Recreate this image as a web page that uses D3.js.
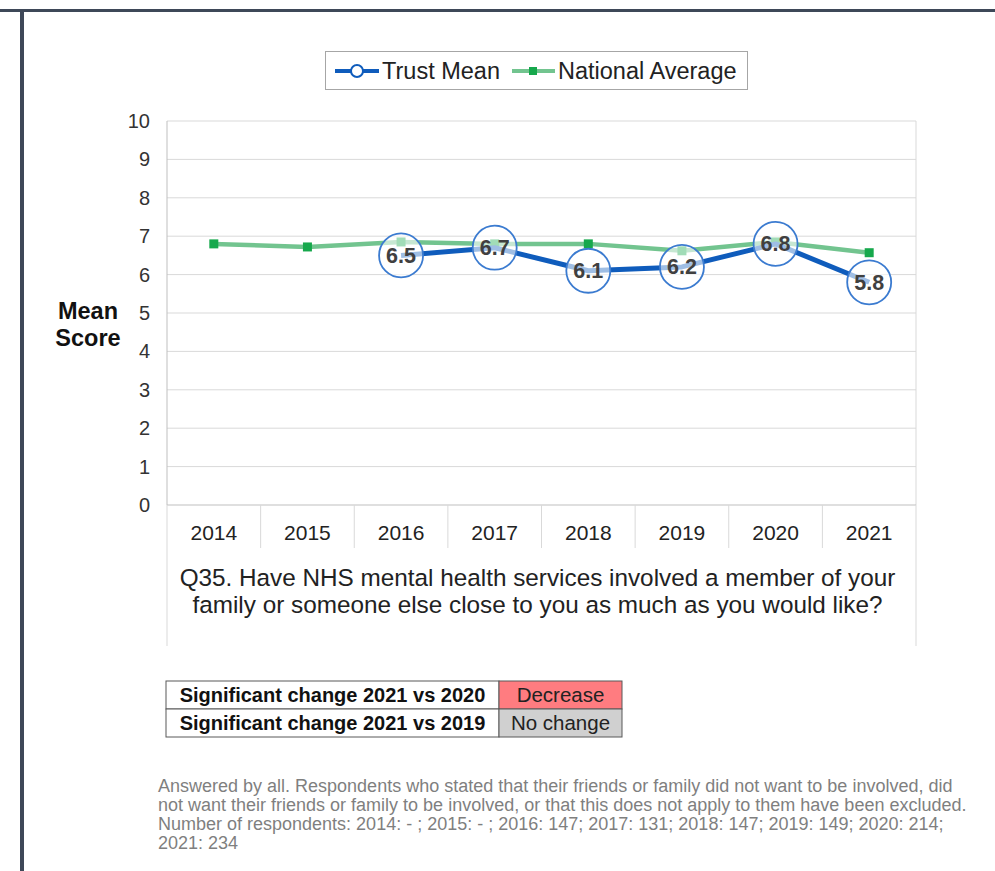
<!DOCTYPE html>
<html>
<head>
<meta charset="utf-8">
<script src="https://cdn.jsdelivr.net/npm/d3@7"></script>
<style>
body { margin: 0; background: #fff; }
svg { display: block; font-family: "Liberation Sans", Arial, sans-serif; }
</style>
</head>
<body>
<svg id="chart" width="995" height="871"></svg>
<script>
// chart data
var years = ["2014", "2015", "2016", "2017", "2018", "2019", "2020", "2021"];
var trustMean = [null, null, 6.5, 6.7, 6.1, 6.2, 6.8, 5.8];
var nationalAvg = [6.8, 6.72, 6.85, 6.8, 6.8, 6.62, 6.85, 6.57];
var yTicks = [0, 1, 2, 3, 4, 5, 6, 7, 8, 9, 10];
var seriesNames = ["Trust Mean", "National Average"];
var questionLines = ["Q35. Have NHS mental health services involved a member of your",
    "family or someone else close to you as much as you would like?"];
var changeRows = [["Significant change 2021 vs 2020", "Decrease"],
    ["Significant change 2021 vs 2019", "No change"]];
var footLines = ["Answered by all. Respondents who stated that their friends or family did not want to be involved, did",
    "not want their friends or family to be involved, or that this does not apply to them have been excluded.",
    "Number of respondents: 2014: - ; 2015: - ; 2016: 147; 2017: 131; 2018: 147; 2019: 149; 2020: 214;",
    "2021: 234"];

var svg = d3.select("#chart");

var plot = {left: 167, right: 916, top: 121, bottom: 505};

var x = d3.scaleBand()
    .domain(years)
    .range([plot.left, plot.right]);

var y = d3.scaleLinear()
    .domain([0, 10])
    .range([plot.bottom, plot.top]);

// page frame (dark border top and left)
svg.append("rect").attr("x", 0).attr("y", 9).attr("width", 995).attr("height", 3).attr("fill", "#3e4858");
svg.append("rect").attr("x", 20).attr("y", 9).attr("width", 4).attr("height", 862).attr("fill", "#3e4858");

// gridlines
svg.append("g").selectAll("line")
    .data(yTicks.filter(function(d) { return d > 0; }))
    .enter().append("line")
    .attr("x1", plot.left).attr("x2", plot.right)
    .attr("y1", function(d) { return y(d); })
    .attr("y2", function(d) { return y(d); })
    .attr("stroke", "#d9d9d9").attr("stroke-width", 1);

// plot area right edge + left axis
svg.append("line").attr("x1", plot.right).attr("x2", plot.right)
    .attr("y1", plot.top).attr("y2", plot.bottom).attr("stroke", "#d9d9d9");
svg.append("line").attr("x1", plot.left).attr("x2", plot.left)
    .attr("y1", plot.top).attr("y2", plot.bottom).attr("stroke", "#bfbfbf");

// y tick labels
svg.append("g").selectAll("text")
    .data(yTicks)
    .enter().append("text")
    .attr("x", 150)
    .attr("y", function(d) { return y(d) + 7; })
    .attr("text-anchor", "end")
    .attr("font-size", 20)
    .attr("fill", "#333")
    .text(function(d) { return d; });

// y axis title
svg.append("text")
    .attr("x", 88).attr("y", 319)
    .attr("text-anchor", "middle")
    .attr("font-size", 23.5).attr("font-weight", "bold").attr("fill", "#111")
    .text("Mean");
svg.append("text")
    .attr("x", 88).attr("y", 346)
    .attr("text-anchor", "middle")
    .attr("font-size", 23.5).attr("font-weight", "bold").attr("fill", "#111")
    .text("Score");

// category table under the plot
var axisG = svg.append("g");
axisG.append("line").attr("x1", plot.left).attr("x2", plot.right)
    .attr("y1", plot.bottom).attr("y2", plot.bottom).attr("stroke", "#bfbfbf");
axisG.selectAll("line.sep")
    .data(years.slice(1))
    .enter().append("line")
    .attr("class", "sep")
    .attr("x1", function(d) { return x(d); })
    .attr("x2", function(d) { return x(d); })
    .attr("y1", plot.bottom).attr("y2", 548)
    .attr("stroke", "#d9d9d9");
axisG.append("line").attr("x1", plot.left).attr("x2", plot.left)
    .attr("y1", plot.bottom).attr("y2", 646).attr("stroke", "#d9d9d9");
axisG.append("line").attr("x1", plot.right).attr("x2", plot.right)
    .attr("y1", plot.bottom).attr("y2", 646).attr("stroke", "#d9d9d9");
axisG.selectAll("text.yr")
    .data(years)
    .enter().append("text")
    .attr("class", "yr")
    .attr("x", function(d) { return x(d) + x.bandwidth() / 2; })
    .attr("y", 540)
    .attr("text-anchor", "middle")
    .attr("font-size", 21)
    .attr("fill", "#222")
    .text(function(d) { return d; });
axisG.selectAll("text.q")
    .data(questionLines)
    .enter().append("text")
    .attr("class", "q")
    .attr("x", (plot.left + plot.right) / 2 - 4)
    .attr("y", function(d, i) { return 586 + i * 27; })
    .attr("text-anchor", "middle")
    .attr("font-size", 24.3)
    .attr("fill", "#222")
    .text(function(d) { return d; });

var nationalPts = years.map(function(d, i) { return {year: d, v: nationalAvg[i]}; });
var trustPts = years.map(function(d, i) { return {year: d, v: trustMean[i]}; })
    .filter(function(d) { return d.v !== null; });

var line = d3.line()
    .x(function(d) { return x(d.year) + x.bandwidth() / 2; })
    .y(function(d) { return y(d.v); });

var cx = function(d) { return x(d.year) + x.bandwidth() / 2; };

// national average line and square markers
svg.append("path")
    .datum(nationalPts)
    .attr("d", line)
    .attr("fill", "none")
    .attr("stroke", "#72c48f")
    .attr("stroke-width", 4.5)
    .attr("stroke-linejoin", "round");

svg.append("g").selectAll("rect")
    .data(nationalPts)
    .enter().append("rect")
    .attr("x", function(d) { return cx(d) - 4.5; })
    .attr("y", function(d) { return y(d.v) - 4.5; })
    .attr("width", 9).attr("height", 9)
    .attr("fill", "#16a84c");

// trust mean line and circles (translucent fill, green shows through faintly)
svg.append("path")
    .datum(trustPts)
    .attr("d", line)
    .attr("fill", "none")
    .attr("stroke", "#0f5cbc")
    .attr("stroke-width", 5)
    .attr("stroke-linejoin", "round");

svg.append("g").selectAll("circle")
    .data(trustPts)
    .enter().append("circle")
    .attr("cx", cx)
    .attr("cy", function(d) { return y(d.v); })
    .attr("r", 22)
    .attr("fill", "#fff")
    .attr("fill-opacity", 0.6)
    .attr("stroke", "#3b7bd0")
    .attr("stroke-width", 1.8);

// value labels on top
svg.append("g").selectAll("text")
    .data(trustPts)
    .enter().append("text")
    .attr("x", cx)
    .attr("y", function(d) { return y(d.v) + 7.5; })
    .attr("text-anchor", "middle")
    .attr("font-size", 21.5)
    .attr("font-weight", "bold")
    .attr("fill", "#404040")
    .text(function(d) { return d.v.toFixed(1); });

// legend
var leg = svg.append("g");
leg.append("rect").attr("x", 325.5).attr("y", 51.5).attr("width", 422).attr("height", 38)
    .attr("fill", "#fff").attr("stroke", "#a6a6a6");
leg.append("line").attr("x1", 335).attr("x2", 379).attr("y1", 71).attr("y2", 71)
    .attr("stroke", "#0f5cbc").attr("stroke-width", 4);
leg.append("circle").attr("cx", 357).attr("cy", 71).attr("r", 6)
    .attr("fill", "#fff").attr("stroke", "#0f5cbc").attr("stroke-width", 2);
leg.append("text").attr("x", 382).attr("y", 79).attr("font-size", 23.5).attr("fill", "#222")
    .text(seriesNames[0]);
leg.append("line").attr("x1", 512).attr("x2", 555).attr("y1", 71).attr("y2", 71)
    .attr("stroke", "#72c48f").attr("stroke-width", 4);
leg.append("rect").attr("x", 529).attr("y", 67).attr("width", 8).attr("height", 8)
    .attr("fill", "#16a84c");
leg.append("text").attr("x", 558).attr("y", 79).attr("font-size", 23.5).attr("fill", "#222")
    .text(seriesNames[1]);

// significance table
var tbl = svg.append("g");
var rowH = 28, col0 = 166, col1 = 499, col2 = 622, tTop = 681;
var fills = {"Decrease": "#ff7c80", "No change": "#d0d0d0", "Increase": "#92d050"};
changeRows.forEach(function(r, i) {
    var ty = tTop + i * rowH;
    tbl.append("rect").attr("x", col0).attr("y", ty).attr("width", col1 - col0).attr("height", rowH)
        .attr("fill", "#fff").attr("stroke", "#595959");
    tbl.append("rect").attr("x", col1).attr("y", ty).attr("width", col2 - col1).attr("height", rowH)
        .attr("fill", fills[r[1]]).attr("stroke", "#595959");
    tbl.append("text").attr("x", (col0 + col1) / 2).attr("y", ty + 21)
        .attr("text-anchor", "middle").attr("font-size", 20).attr("font-weight", "bold")
        .attr("fill", "#111").text(r[0]);
    tbl.append("text").attr("x", (col1 + col2) / 2).attr("y", ty + 21)
        .attr("text-anchor", "middle").attr("font-size", 20.5)
        .attr("fill", "#222").text(r[1]);
});

// footnote
svg.append("g").selectAll("text")
    .data(footLines)
    .enter().append("text")
    .attr("x", 158)
    .attr("y", function(d, i) { return 792 + i * 19; })
    .attr("font-size", 18)
    .attr("fill", "#7f7f7f")
    .text(function(d) { return d; });
</script>
</body>
</html>
